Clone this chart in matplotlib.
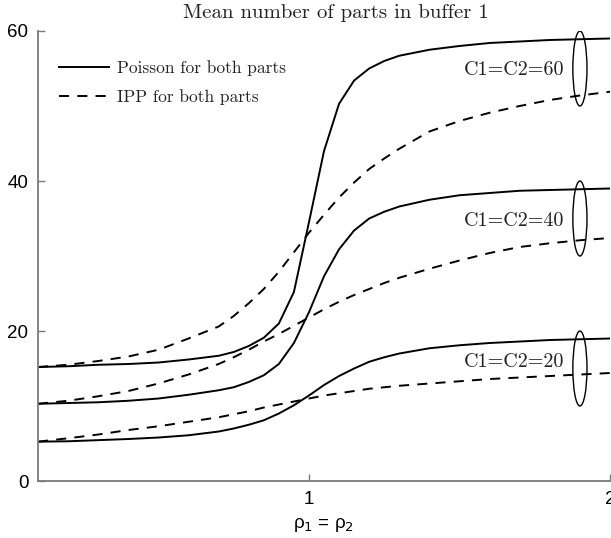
import matplotlib
matplotlib.use('Agg')
import matplotlib.pyplot as plt
from matplotlib.patches import Ellipse

# Datos
rho = [0.1, 0.2, 0.3, 0.4, 0.5, 0.6, 0.7, 0.75, 0.8, 0.85, 0.9, 0.95, 1.0,
       1.05, 1.1, 1.15, 1.2, 1.25, 1.3, 1.4, 1.5, 1.6, 1.7, 1.8, 1.9, 2.0]

poisson_60 = [15.2, 15.3, 15.5, 15.6, 15.8, 16.2, 16.7, 17.2, 18.0, 19.1, 21.0, 25.2, 34.5,
              44.0, 50.3, 53.4, 55.0, 56.0, 56.7, 57.5, 58.0, 58.4, 58.6, 58.8, 58.9, 59.0]
ipp_60 = [15.2, 15.5, 16.0, 16.6, 17.5, 19.0, 20.6, 22.0, 23.7, 25.6, 27.9, 30.5, 33.1,
          35.5, 37.8, 39.8, 41.6, 43.0, 44.3, 46.6, 48.0, 49.1, 50.0, 50.8, 51.4, 51.9]

poisson_40 = [10.3, 10.4, 10.5, 10.7, 11.0, 11.5, 12.1, 12.5, 13.2, 14.1, 15.6, 18.4, 22.5,
              27.3, 30.9, 33.4, 35.0, 35.9, 36.6, 37.5, 38.1, 38.4, 38.7, 38.8, 38.9, 39.0]
ipp_40 = [10.3, 10.7, 11.3, 12.0, 13.0, 14.2, 15.6, 16.5, 17.5, 18.6, 19.6, 20.7, 21.8,
          22.9, 23.9, 24.8, 25.6, 26.4, 27.1, 28.3, 29.4, 30.4, 31.2, 31.7, 32.1, 32.4]

poisson_20 = [5.25, 5.3, 5.45, 5.6, 5.8, 6.1, 6.6, 7.0, 7.5, 8.1, 9.0, 10.1, 11.4,
              12.8, 14.0, 15.0, 15.9, 16.5, 17.0, 17.7, 18.1, 18.4, 18.6, 18.8, 18.9, 19.0]
ipp_20 = [5.25, 5.7, 6.2, 6.8, 7.3, 7.9, 8.5, 8.9, 9.3, 9.8, 10.2, 10.6, 11.0,
          11.4, 11.7, 12.0, 12.3, 12.5, 12.7, 13.0, 13.3, 13.6, 13.8, 14.0, 14.2, 14.4]

capacidades = ['C1=C2=60', 'C1=C2=40', 'C1=C2=20']
elipse_y = [55, 35, 15]
texto_y = [54.8, 34.6, 15.9]

fig = plt.figure(figsize=(6.11, 5.38), dpi=100)
ax = fig.add_axes([0.0622, 0.1059, 0.9362, 0.8365])

serif = 'cmr10'
dash = (0, (5.2, 4.2))
lw = 1.4

ax.plot(rho, poisson_60, color='black', lw=lw, label='Poisson for both parts')
ax.plot(rho, ipp_60, color='black', lw=lw, linestyle=dash, label='IPP for both parts')
ax.plot(rho, poisson_40, color='black', lw=lw)
ax.plot(rho, ipp_40, color='black', lw=lw, linestyle=dash)
ax.plot(rho, poisson_20, color='black', lw=lw)
ax.plot(rho, ipp_20, color='black', lw=lw, linestyle=dash)

# elipses y etiquetas de capacidad
for nombre, ye, yt in zip(capacidades, elipse_y, texto_y):
    ax.add_patch(Ellipse((1.9, ye), 0.047, 10, fill=False, edgecolor='black', lw=1.0))
    ax.text(1.848, yt, nombre, family=serif, fontsize=14.5, ha='right', va='center',
            color='#222222')

ax.set_xlim(0.1, 2)
ax.set_ylim(0, 60)
ax.set_xticks([1, 2])
ax.set_yticks([0, 20, 40, 60])

for s in ['top', 'right']:
    ax.spines[s].set_visible(False)
for s in ['left', 'bottom']:
    ax.spines[s].set_color('#7a7a7a')
    ax.spines[s].set_linewidth(1.3)

ax.tick_params(direction='in', length=5, width=1, color='#7a7a7a',
               labelsize=13.5, labelcolor='black', pad=7)
for lab in ax.get_xticklabels() + ax.get_yticklabels():
    lab.set_family('Liberation Sans')

ax.set_xlabel('ρ$_1$ = ρ$_2$', family='Liberation Sans', fontsize=13.5, labelpad=6)
ax.set_title('Mean number of parts in buffer 1', family=serif, fontsize=15,
             x=0.521, pad=9, color='#222222')

leg = ax.legend(loc='upper left', bbox_to_anchor=(0.009, 0.97), frameon=False,
                handlelength=2.9, handletextpad=0.45, labelspacing=0.75,
                prop={'family': serif, 'size': 12.5})
for t in leg.get_texts():
    t.set_color('#222222')

plt.savefig('out.png', dpi=100)
